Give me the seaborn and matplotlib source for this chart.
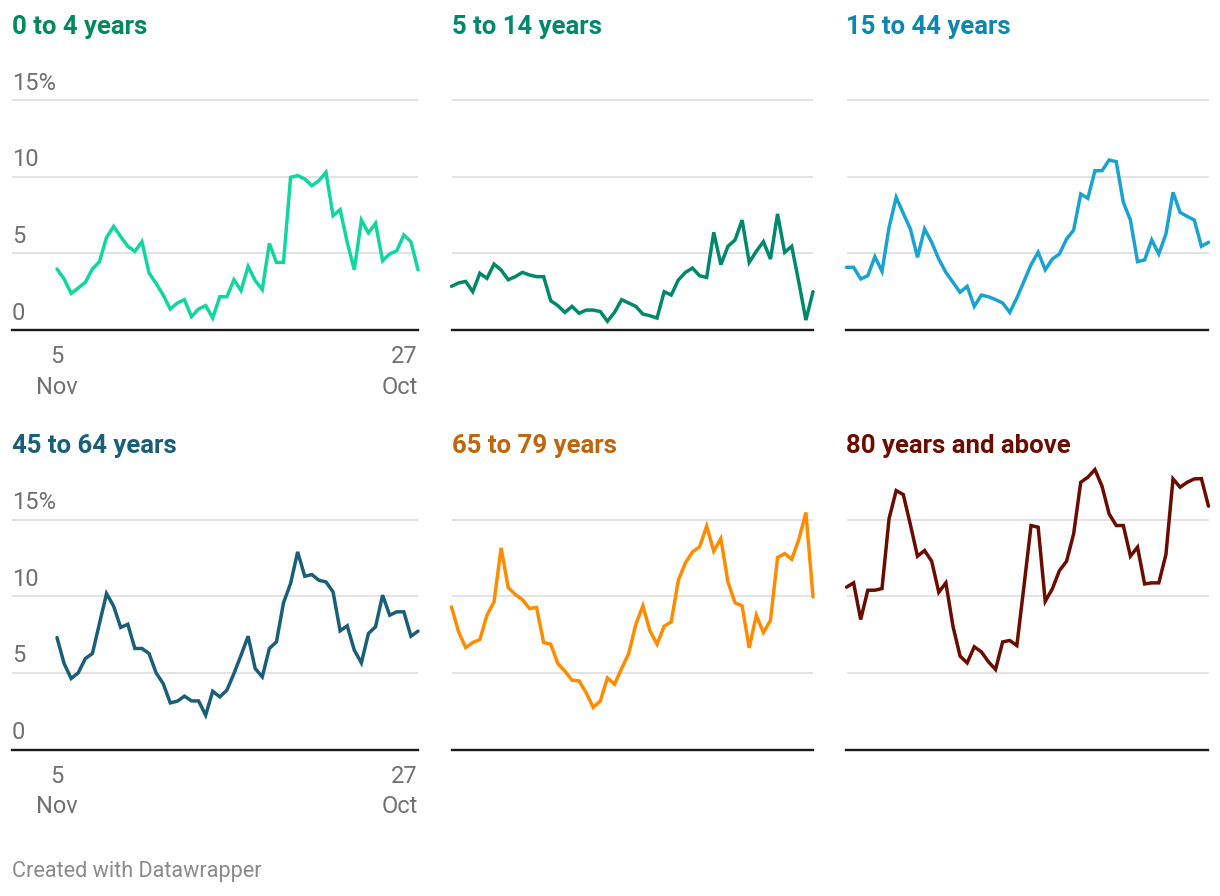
import pandas as pd
import numpy as np
import matplotlib.pyplot as plt
import matplotlib.transforms as mtransforms
import seaborn as sns

# --- données (en %) ---
weeks = pd.date_range('2023-11-05', periods=52, freq='7D')

groups = ['0 to 4 years', '5 to 14 years', '15 to 44 years',
          '45 to 64 years', '65 to 79 years', '80 years and above']
line_colors = ['#10d6a0', '#00886d', '#1aa3d1', '#1a5f7a', '#ff8c00', '#6b0c00']
title_colors = ['#00895c', '#00886d', '#0b87b0', '#1a5f7a', '#c0650c', '#6b0c00']

age_0_4 = [3.98, 3.33, 2.39, 2.74, 3.11, 3.98, 4.46, 6.04, 6.76, 6.09, 5.46, 5.13, 5.76,
           3.72, 3.04, 2.28, 1.37, 1.76, 1.98, 0.87, 1.37, 1.59, 0.78, 2.17, 2.17, 3.28,
           2.57, 4.15, 3.22, 2.63, 5.65, 4.41, 4.41, 9.96, 10.07, 9.85, 9.41, 9.74, 10.28,
           7.46, 7.85, 5.72, 3.93, 7.17, 6.33, 6.96, 4.52, 4.96, 5.17, 6.20, 5.76, 3.93]
age_5_14 = [2.85, 3.07, 3.17, 2.50, 3.70, 3.37, 4.30, 3.91, 3.28, 3.48, 3.76, 3.59, 3.48,
            3.48, 1.91, 1.59, 1.15, 1.54, 1.09, 1.30, 1.30, 1.20, 0.57, 1.15, 1.98, 1.76,
            1.54, 1.04, 0.93, 0.78, 2.50, 2.28, 3.26, 3.76, 4.04, 3.54, 3.43, 6.37, 4.26,
            5.46, 5.87, 7.17, 4.41, 5.13, 5.76, 4.63, 7.57, 5.07, 5.46, 3.11, 0.65, 2.50]
age_15_44 = [4.09, 4.09, 3.33, 3.54, 4.78, 3.83, 6.70, 8.65, 7.61, 6.59, 4.74, 6.59, 5.72,
             4.63, 3.76, 3.11, 2.46, 2.85, 1.54, 2.28, 2.17, 1.98, 1.76, 1.15, 2.09, 3.17,
             4.26, 5.07, 3.93, 4.63, 4.96, 5.93, 6.52, 8.87, 8.59, 10.39, 10.39, 11.09, 10.98,
             8.33, 7.17, 4.46, 4.57, 5.87, 4.96, 6.26, 8.98, 7.67, 7.41, 7.17, 5.46, 5.72]
age_45_64 = [7.30, 5.61, 4.63, 5.00, 5.93, 6.26, 8.22, 10.17, 9.35, 7.96, 8.17, 6.59, 6.59,
             6.26, 5.00, 4.30, 3.04, 3.15, 3.48, 3.17, 3.17, 2.24, 3.80, 3.43, 3.87, 4.96,
             6.15, 7.39, 5.28, 4.74, 6.59, 7.02, 9.57, 10.83, 12.89, 11.30, 11.41, 11.04, 10.93,
             10.28, 7.74, 8.07, 6.48, 5.65, 7.57, 8.00, 10.07, 8.76, 8.98, 8.98, 7.39, 7.72]
age_65_79 = [9.30, 7.67, 6.65, 6.98, 7.17, 8.76, 9.63, 13.15, 10.57, 10.11, 9.78, 9.20, 9.26,
             6.98, 6.87, 5.61, 5.11, 4.52, 4.48, 3.70, 2.74, 3.17, 4.67, 4.26, 5.28, 6.26,
             8.15, 9.37, 7.74, 6.87, 8.04, 8.33, 11.04, 12.17, 12.89, 13.22, 14.57, 12.93, 13.76,
             10.93, 9.57, 9.37, 6.63, 8.76, 7.63, 8.43, 12.52, 12.78, 12.41, 13.70, 15.46, 9.96]
age_80_plus = [10.59, 10.87, 8.48, 10.39, 10.39, 10.50, 15.07, 16.89, 16.63, 14.67, 12.61, 12.98,
               12.28, 10.26, 10.87, 8.04, 6.09, 5.65, 6.70, 6.37, 5.72, 5.22, 7.02, 7.11, 6.78,
               10.65, 14.61, 14.50, 9.67, 10.48, 11.67, 12.28, 14.07, 17.43, 17.76, 18.26, 17.17,
               15.37, 14.61, 14.61, 12.61, 13.20, 10.80, 10.87, 10.87, 12.72, 17.65, 17.11, 17.43,
               17.65, 17.67, 15.87]

y_ticks = [0, 5, 10, 15]
y_tick_labels = ['0', '5', '10', '15%']
x_tick_labels = ['5\nNov', '27\nOct']

series = [age_0_4, age_5_14, age_15_44, age_45_64, age_65_79, age_80_plus]
df = pd.concat([pd.DataFrame({'week': weeks, 'share': vals, 'group': g})
                for g, vals in zip(groups, series)], ignore_index=True)

# --- mise en page (pixels) ---
W, H, DPI = 1220, 896, 100
Y_MAX = 18.6
PPU = 15.33  # pixels par point de %
col_left = [12, 451.5, 846.5]
col_right = [418, 813, 1208.5]
row_base = [330, 749.5]
title_base = [34, 453]
label_grey = '#707070'

sns.set_theme(style='white')
plt.rcParams['font.family'] = ['Roboto', 'DejaVu Sans']

fig = plt.figure(figsize=(W / DPI, H / DPI), dpi=DPI)
fig.patch.set_facecolor('white')

step = (col_right[0] - 57) / 51  # pixels par semaine
for i, g in enumerate(groups):
    r, c = divmod(i, 3)
    l, rt = col_left[c], col_right[c]
    ax = fig.add_axes([l / W, (H - row_base[r]) / H, (rt - l) / W, Y_MAX * PPU / H])
    sub = df[df['group'] == g]
    sns.lineplot(data=sub, x='week', y='share', color=line_colors[i], linewidth=2.5, ax=ax)
    for ln in ax.lines:
        ln.set_clip_on(False)
        ln.set_solid_joinstyle('miter')

    left = weeks[0]
    if c == 0:
        left = weeks[0] - pd.Timedelta(weeks=(57 - 12) / step)
    ax.set_xlim(left, weeks[-1])
    ax.set_ylim(0, Y_MAX)
    for v in y_ticks[1:]:
        ax.axhline(v, color='#e3e3e3', linewidth=1.4, zorder=0)
    for s in ['top', 'right', 'left']:
        ax.spines[s].set_visible(False)
    ax.spines['bottom'].set_color('#1a1a1a')
    ax.spines['bottom'].set_linewidth(1.7)
    ax.set_yticks([])
    ax.set_xlabel('')
    ax.set_ylabel('')

    if c == 0:
        trans = mtransforms.blended_transform_factory(ax.transAxes, ax.transData)
        for v, lab in zip(y_ticks, y_tick_labels):
            ax.text(0, v + 0.68, lab, transform=trans, ha='left', va='baseline',
                    fontsize=17, color=label_grey)
        ax.set_xticks([weeks[0], weeks[-1]], labels=x_tick_labels)
        ax.tick_params(axis='x', length=0, pad=11, labelsize=17, labelcolor=label_grey)
        tl = ax.get_xticklabels()
        tl[0].set_ha('center')
        tl[1].set_ha('right')
        for t in tl:
            t.set_linespacing(1.42)
            t.set_multialignment(t.get_ha())
    else:
        ax.set_xticks([])

    fig.text(l / W, 1 - title_base[r] / H, g, ha='left', va='baseline',
             fontsize=18.5, fontweight='bold', color=title_colors[i])

fig.text(12 / W, 1 - 877 / H, 'Created with Datawrapper', ha='left', va='baseline',
         fontsize=15.6, color='#8a8a8a')

fig.savefig('out.png', dpi=DPI, facecolor='white')
